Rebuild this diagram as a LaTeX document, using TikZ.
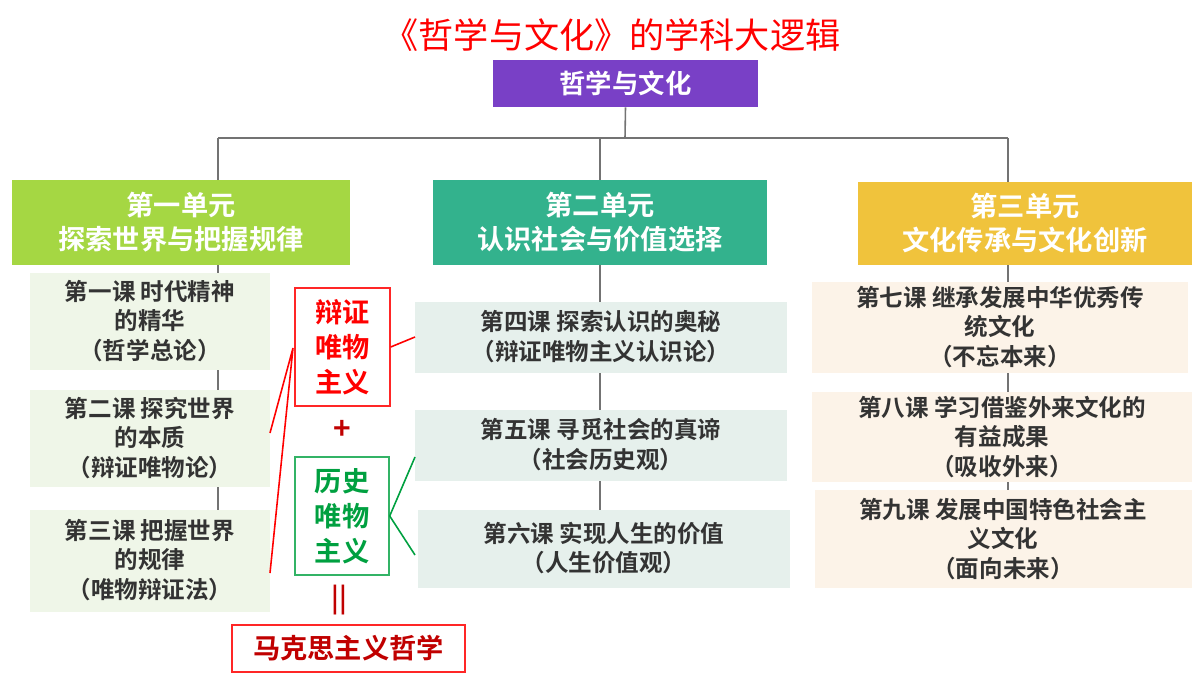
\documentclass[tikz,border=0pt]{standalone}
\usepackage{fontspec}
\setmainfont{Noto Sans CJK SC}
\newfontfamily\cjkb{Noto Sans CJK SC Bold}
\begin{document}
\begin{tikzpicture}[x=0.02cm,y=-0.02cm,
  box/.style={draw=none,inner sep=0pt,align=center,font=\cjkb\fontsize{13.4}{17}\selectfont,text=black!80},
  unit/.style={inner sep=0pt,align=center,text=white,font=\cjkb\fontsize{15.5}{19}\selectfont},
  gl/.style={draw=black!55,line width=0.9pt}]
\useasboundingbox (0,0) rectangle (1200,675);
\definecolor{ua}{HTML}{A5D743}\definecolor{ub}{HTML}{33B28D}\definecolor{uc}{HTML}{F0C33C}
\definecolor{la}{HTML}{EFF6E8}\definecolor{lb}{HTML}{E6F0EC}\definecolor{lc}{HTML}{FCF3E8}
\definecolor{dr}{HTML}{C00000}\definecolor{gr}{HTML}{00A040}
\node[font=\fontsize{20}{24}\selectfont,text=red] (title) at (612,35) {《哲学与文化》的学科大逻辑};
\node[fill=violet!60!blue!75!white,fill=purple!40!blue!75,minimum width=265*0.02cm,minimum height=47*0.02cm,inner sep=0pt,text=white,font=\cjkb\fontsize{15}{18}\selectfont] (top) at (625.5,83.5) {哲学与文化};
% connectors
\coordinate (j) at (625,138);
\coordinate (ja) at (218,138);\coordinate (jc) at (1008,138);
\draw[gl] (top.south) -- (j);
\draw[gl] (ja) -- (jc);
\draw[gl] (ja) -- (218,180);
\draw[gl] (600,138) -- (600,180);
\draw[gl] (jc) -- (1008,182);
\draw[gl] (218,265) -- (218,612);
\draw[gl] (600,265) -- (600,588);
\draw[gl] (1008,265) -- (1008,588);
% units
\fill[ua] (12,180) rectangle (350,265);
\node[unit] (u1) at (181,222) {第一单元\\探索世界与把握规律};
\fill[ub] (433,180) rectangle (767,265);
\node[unit] (u2) at (600,222) {第二单元\\认识社会与价值选择};
\fill[uc] (858,182) rectangle (1192,265);
\node[unit] (u3) at (1025,223) {第三单元\\文化传承与文化创新};
% lessons left
\fill[la] (30,273) rectangle (270,370);
\node[box] (l1) at (150,321) {第一课\ 时代精神\\的精华\\（哲学总论）};
\fill[la] (30,390) rectangle (270,487);
\node[box] (l2) at (150,438) {第二课\ 探究世界\\的本质\\（辩证唯物论）};
\fill[la] (30,510) rectangle (270,612);
\node[box] (l3) at (150,560) {第三课\ 把握世界\\的规律\\（唯物辩证法）};
% middle
\fill[lb] (415,302) rectangle (787,373);
\node[box] (l4) at (601,337) {第四课\ 探索认识的奥秘\\（辩证唯物主义认识论）};
\fill[lb] (415,410) rectangle (787,481);
\node[box] (l5) at (601,445) {第五课\ 寻觅社会的真谛\\（社会历史观）};
\fill[lb] (418,510) rectangle (790,588);
\node[box] (l6) at (604,548) {第六课\ 实现人生的价值\\（人生价值观）};
% right
\fill[lc] (812,282) rectangle (1188,373);
\node[box] (l7) at (1000,327) {第七课\ 继承发展中华优秀传\\统文化\\（不忘本来）};
\fill[lc] (812,392) rectangle (1192,482);
\node[box] (l8) at (1002,437) {第八课\ 学习借鉴外来文化的\\有益成果\\（吸收外来）};
\fill[lc] (815,490) rectangle (1192,588);
\node[box] (l9) at (1003,539) {第九课\ 发展中国特色社会主\\义文化\\（面向未来）};
% red / green
\node[draw=red!85,line width=0.8pt,minimum width=95*0.02cm,minimum height=118*0.02cm,inner sep=0pt,align=center,text=red,font=\cjkb\fontsize{15.5}{20}\selectfont] (dm) at (342.5,347) {辩证\\唯物\\主义};
\node[draw=gr!80,line width=0.8pt,minimum width=94*0.02cm,minimum height=118*0.02cm,inner sep=0pt,align=center,text=gr,font=\cjkb\fontsize{15.5}{20}\selectfont] (hm) at (342,516) {历史\\唯物\\主义};
\node[text=dr,font=\cjkb\fontsize{17}{20}\selectfont] (plus) at (342,430) {+};
\node[text=dr,font=\cjkb\fontsize{15}{20}\selectfont] (eq) at (339,600) {||};
\node[draw=red!85,line width=0.8pt,minimum width=233*0.02cm,minimum height=47*0.02cm,inner sep=0pt,text=dr,font=\cjkb\fontsize{15.5}{19}\selectfont] (mk) at (348.5,648.5) {马克思主义哲学};
\coordinate (rl) at (293,348);
\draw[red,line width=0.9pt] (dm.east) -- (l4.west -| 415,0);
\draw[red,line width=0.9pt] (270,433) -- (rl) -- (270,573);
\draw[gr,line width=0.9pt] (415,457) -- (hm.east) -- (415,555);
\end{tikzpicture}
\end{document}
